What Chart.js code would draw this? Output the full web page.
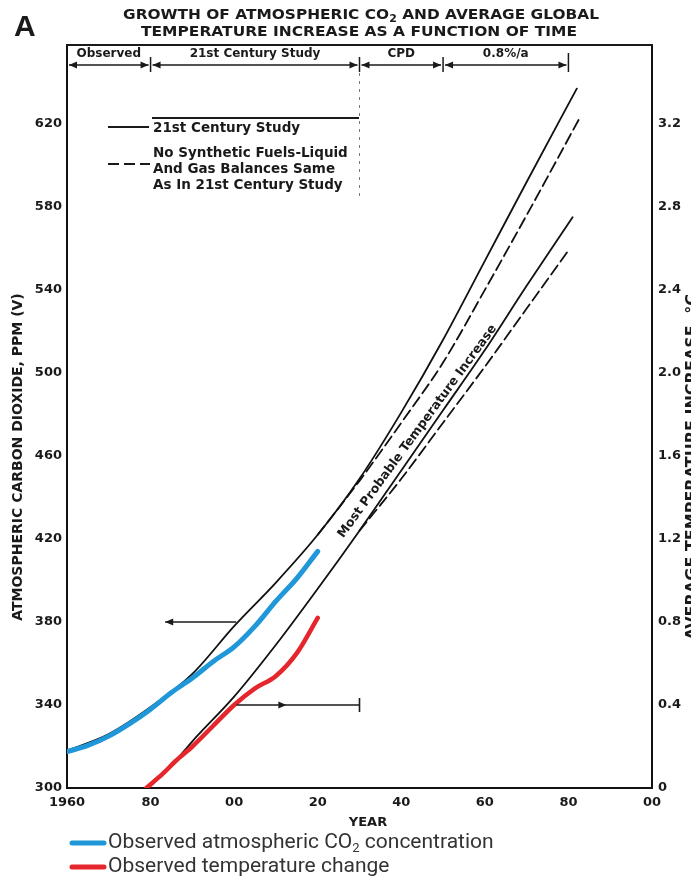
<!DOCTYPE html>
<html>
<head>
<meta charset="utf-8">
<script src="https://cdn.jsdelivr.net/npm/chart.js@4.4.1/dist/chart.umd.min.js"></script>
<style>
body { margin: 0; background: #fff; }
canvas { display: block; }
</style>
</head>
<body>
<canvas id="grafico" width="691" height="886"></canvas>
<script>
// valores (ppm no eixo esquerdo, graus no direito)
const anosCO2 = [1960, 1965, 1970, 1975, 1980, 1985, 1990, 1995, 2000, 2005, 2010, 2015, 2020];
const co2Observado = [317.5, 320.5, 325, 331, 338, 346, 353, 361, 368, 378, 390, 401, 414];

const anosTemp = [1979, 1983, 1986, 1990, 1995, 2000, 2005, 2010, 2015, 2020];
const tempObservada = [0, 0.07, 0.13, 0.2, 0.3, 0.4, 0.48, 0.54, 0.65, 0.82];

const anosEstudo = [1960, 1970, 1980, 1990, 2000, 2010, 2020, 2030, 2040, 2050, 2060, 2070, 2082];
const co2Estudo = [318, 326, 339, 355, 378, 399, 422, 449, 481, 516, 554, 592, 637];

const anosSemSint = [2020, 2030, 2040, 2050, 2060, 2070, 2083];
const co2SemSint = [422, 448, 476, 505, 540, 576, 624];

const anosTempEstudo = [1986, 1990, 2000, 2010, 2020, 2030, 2040, 2050, 2060, 2070, 2081];
const tempEstudo = [0.13, 0.225, 0.44, 0.69, 0.96, 1.24, 1.53, 1.82, 2.11, 2.42, 2.75];

const anosTempSemSint = [2030, 2040, 2050, 2060, 2070, 2080];
const tempSemSint = [1.24, 1.49, 1.76, 2.03, 2.31, 2.59];

const ticksAno = [1960, 1980, 2000, 2020, 2040, 2060, 2080, 2100];
const ticksPPM = [300, 340, 380, 420, 460, 500, 540, 580, 620];
const ticksTemp = [0, 0.4, 0.8, 1.2, 1.6, 2.0, 2.4, 2.8, 3.2];

const periodos = [1960, 1980, 2030, 2050, 2080];
const nomesPeriodos = ['Observed', '21st Century Study', 'CPD', '0.8%/a'];

function pares(xs, ys) {
    return xs.map((x, i) => ({ x: x, y: ys[i] }));
}

const fonteEixo = { family: 'DejaVu Sans', weight: 'bold', size: 13 };

function cabeca(c, x, y, dir) {
    c.beginPath();
    c.moveTo(x, y);
    c.lineTo(x - dir * 8, y - 3.5);
    c.lineTo(x - dir * 8, y + 3.5);
    c.closePath();
    c.fill();
}

function linha(c, x0, y0, x1, y1) {
    c.beginPath();
    c.moveTo(x0, y0);
    c.lineTo(x1, y1);
    c.stroke();
}

// texto esticado ate a largura pedida
function textoLargura(c, txt, cx, cy, largura) {
    const w = c.measureText(txt).width;
    c.save();
    c.translate(cx, cy);
    c.scale(largura / w, 1);
    c.textAlign = 'center';
    c.fillText(txt, 0, 0);
    c.restore();
}

const anotacoes = {
    id: 'anotacoes',
    afterDraw(chart) {
        const c = chart.ctx;
        const area = chart.chartArea;
        const px = v => chart.scales.x.getPixelForValue(v);
        const py = v => chart.scales.y.getPixelForValue(v);
        c.save();
        c.fillStyle = '#1a1a1a';
        c.strokeStyle = '#1a1a1a';

        // borda de cima
        c.lineWidth = 2;
        linha(c, area.left - 1, area.top, area.right + 1, area.top);

        // letra A e titulo
        c.textBaseline = 'middle';
        c.font = 'bold 30px "Liberation Sans"';
        c.textAlign = 'left';
        c.fillText('A', 14, 28);

        const p1 = 'GROWTH OF ATMOSPHERIC CO', p2 = ' AND AVERAGE GLOBAL';
        c.font = 'bold 14px "DejaVu Sans"';
        const w1 = c.measureText(p1).width, w3 = c.measureText(p2).width;
        c.font = 'bold 10px "DejaVu Sans"';
        const w2 = c.measureText('2').width;
        const esc = 476 / (w1 + w2 + w3);
        c.save();
        c.translate(123, 15);
        c.scale(esc, 1);
        c.font = 'bold 14px "DejaVu Sans"';
        c.fillText(p1, 0, 0);
        c.font = 'bold 10px "DejaVu Sans"';
        c.fillText('2', w1, 4);
        c.font = 'bold 14px "DejaVu Sans"';
        c.fillText(p2, w1 + w2, 0);
        c.restore();
        c.font = 'bold 14px "DejaVu Sans"';
        textoLargura(c, 'TEMPERATURE INCREASE AS A FUNCTION OF TIME', 359, 32, 436);

        // barra de periodos
        const yBarra = area.top + 20;
        c.lineWidth = 1.5;
        c.textAlign = 'center';
        c.font = 'bold 12px "DejaVu Sans"';
        for (let i = 0; i < periodos.length - 1; i++) {
            const a = px(periodos[i]) + 2, b = px(periodos[i + 1]) - 2;
            linha(c, a, yBarra, b, yBarra);
            cabeca(c, a, yBarra, -1);
            cabeca(c, b, yBarra, 1);
            c.fillText(nomesPeriodos[i], (a + b) / 2, area.top + 9);
            if (i > 0) linha(c, a - 2, yBarra - 8, a - 2, yBarra + 7);
        }
        const xFim = px(periodos[periodos.length - 1]);
        linha(c, xFim, yBarra - 12, xFim, yBarra + 7);

        // linha pontilhada em 2030
        c.save();
        c.lineWidth = 1;
        c.strokeStyle = '#777';
        c.setLineDash([3, 5]);
        linha(c, px(2030), yBarra + 8, px(2030), area.top + 155);
        c.restore();

        // legenda interna
        c.lineWidth = 2;
        linha(c, area.left + 85, area.top + 73, area.left + 292, area.top + 73);
        linha(c, area.left + 41, area.top + 82, area.left + 82, area.top + 82);
        c.save();
        c.setLineDash([11, 5]);
        linha(c, area.left + 41, area.top + 119, area.left + 83, area.top + 119);
        c.restore();
        c.textAlign = 'left';
        c.font = 'bold 13.5px "DejaVu Sans"';
        c.fillText('21st Century Study', area.left + 86, area.top + 83);
        c.fillText('No Synthetic Fuels-Liquid', area.left + 86, area.top + 108);
        c.fillText('And Gas Balances Same', area.left + 86, area.top + 124);
        c.fillText('As In 21st Century Study', area.left + 86, area.top + 140);

        // setas indicando os eixos
        c.lineWidth = 1.6;
        linha(c, px(1983.5), py(380), px(2000.5), py(380));
        cabeca(c, px(1983.5), py(380), -1);
        linha(c, px(2000.6), py(340), px(2030), py(340));
        cabeca(c, px(2012.5), py(340), 1);
        linha(c, px(2030), py(340) - 7, px(2030), py(340) + 7);

        // texto inclinado
        const xa = px(2026), ya = py(422.6), xb = px(2061.7), yb = py(521);
        c.save();
        c.translate((xa + xb) / 2, (ya + yb) / 2);
        c.rotate(Math.atan2(yb - ya, xb - xa));
        c.textAlign = 'center';
        c.font = 'bold 12.5px "DejaVu Sans"';
        c.fillText('Most Probable Temperature Increase', 0, 0);
        c.restore();

        // titulos dos eixos
        c.font = 'bold 13px "DejaVu Sans"';
        c.textAlign = 'center';
        c.fillText('YEAR', 368, 823);
        c.save();
        c.translate(18, 457);
        c.rotate(-Math.PI / 2);
        c.font = 'bold 14px "DejaVu Sans"';
        c.fillText('ATMOSPHERIC CARBON DIOXIDE, PPM (V)', 0, 0);
        c.restore();
        c.save();
        c.translate(685, 467);
        c.rotate(-Math.PI / 2);
        c.textBaseline = 'top';
        c.font = 'bold 16px "DejaVu Sans"';
        c.fillText('AVERAGE TEMPERATURE INCREASE, \u00B0C', 0, 0);
        c.restore();

        // legenda de baixo
        c.lineCap = 'round';
        c.lineWidth = 5;
        c.strokeStyle = '#1f97d8';
        linha(c, 72, 843, 104, 843);
        c.strokeStyle = '#e5262c';
        linha(c, 72, 867, 104, 867);
        c.fillStyle = '#333';
        c.textAlign = 'left';
        c.textBaseline = 'middle';
        c.font = '21px Roboto';
        let x = 108;
        c.fillText('Observed atmospheric CO', x, 843);
        x += c.measureText('Observed atmospheric CO').width;
        c.font = '13px Roboto';
        c.fillText('2', x, 849);
        x += c.measureText('2').width;
        c.font = '21px Roboto';
        c.fillText(' concentration', x, 843);
        c.fillText('Observed temperature change', 108, 867);

        c.restore();
    }
};

const ctx = document.getElementById('grafico').getContext('2d');
new Chart(ctx, {
    type: 'line',
    data: {
        datasets: [
            { label: 'Observed atmospheric CO2 concentration', data: pares(anosCO2, co2Observado), borderColor: '#1f97d8', borderWidth: 5, yAxisID: 'y', order: 1 },
            { label: 'Observed temperature change', data: pares(anosTemp, tempObservada), borderColor: '#e5262c', borderWidth: 4.5, yAxisID: 'y1', order: 2 },
            { label: '21st Century Study', data: pares(anosEstudo, co2Estudo), borderColor: '#111', borderWidth: 1.8, yAxisID: 'y', order: 3 },
            { label: 'No Synthetic Fuels', data: pares(anosSemSint, co2SemSint), borderColor: '#111', borderWidth: 1.8, borderDash: [11, 5], yAxisID: 'y', order: 4 },
            { label: 'Temp 21st Century Study', data: pares(anosTempEstudo, tempEstudo), borderColor: '#111', borderWidth: 1.8, yAxisID: 'y1', order: 5 },
            { label: 'Temp No Synthetic Fuels', data: pares(anosTempSemSint, tempSemSint), borderColor: '#111', borderWidth: 1.8, borderDash: [11, 5], yAxisID: 'y1', order: 6 }
        ]
    },
    options: {
        responsive: false,
        animation: false,
        layout: { padding: { top: 45 } },
        elements: {
            point: { radius: 0 },
            line: { cubicInterpolationMode: 'monotone', borderCapStyle: 'round', fill: false }
        },
        plugins: { legend: { display: false }, tooltip: { enabled: false } },
        scales: {
            x: {
                type: 'linear', min: 1960, max: 2100,
                afterBuildTicks: s => { s.ticks = ticksAno.map(v => ({ value: v })); },
                afterFit: s => { s.height = 98; },
                grid: { display: false, drawTicks: false },
                border: { display: true, color: '#111', width: 2 },
                ticks: {
                    padding: 7, maxRotation: 0, autoSkip: false, color: '#1a1a1a', font: fonteEixo,
                    callback: v => v === 1960 ? '1960' : String(v % 100).padStart(2, '0')
                }
            },
            y: {
                position: 'left', min: 300, max: 658,
                afterBuildTicks: s => { s.ticks = ticksPPM.map(v => ({ value: v })); },
                afterFit: s => { s.width = 67; },
                grid: { display: false, drawTicks: false },
                border: { display: true, color: '#111', width: 2 },
                ticks: { padding: 5, color: '#1a1a1a', font: fonteEixo }
            },
            y1: {
                position: 'right', min: 0, max: 3.58,
                afterBuildTicks: s => { s.ticks = ticksTemp.map(v => ({ value: v })); },
                afterFit: s => { s.width = 39; },
                grid: { display: false, drawTicks: false },
                border: { display: true, color: '#111', width: 2 },
                ticks: { padding: 6, color: '#1a1a1a', font: fonteEixo, callback: v => v === 0 ? '0' : v.toFixed(1) }
            }
        }
    },
    plugins: [anotacoes]
});
</script>
</body>
</html>
